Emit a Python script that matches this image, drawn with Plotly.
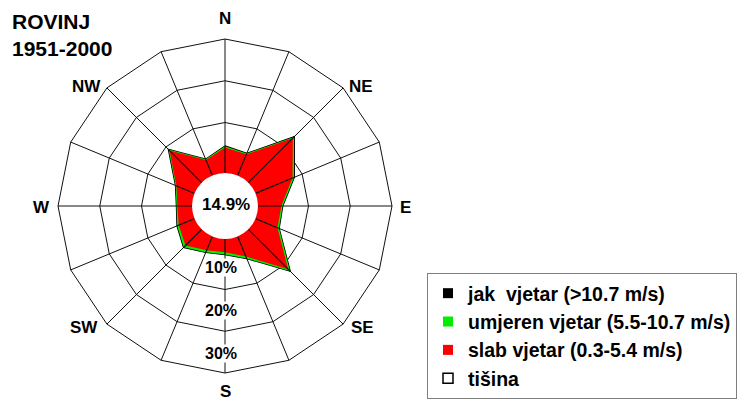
import numpy as np
import plotly.graph_objects as go

directions = ["N", "NNE", "NE", "ENE", "E", "ESE", "SE", "SSE",
              "S", "SSW", "SW", "WSW", "W", "WNW", "NW", "NNW"]
compass_labels = ["N", "NE", "E", "SE", "S", "SW", "W", "NW"]

# frequencies (%) by wind class
slab = [4.0, 3.4, 13.0, 7.5, 3.5, 3.6, 11.4, 3.1,
        1.1, 1.5, 3.4, 2.0, 1.4, 2.6, 8.8, 1.9]          # 0.3-5.4 m/s
umjeren = [0.3, 0.2, 0.4, 0.4, 0.3, 0.4, 0.6, 0.5,
           0.5, 0.5, 0.6, 0.4, 0.2, 0.2, 0.3, 0.2]       # 5.5-10.7 m/s
jak = [0.1, 0.05, 0.1, 0.1, 0.05, 0.05, 0.1, 0.05,
       0.05, 0.05, 0.05, 0.05, 0.05, 0.05, 0.1, 0.05]   # >10.7 m/s
calm = 14.9
ring_vals = [0, 10, 20, 30]
ring_labels = ["10%", "20%", "30%"]

legend_names = ["jak  vjetar (>10.7 m/s)", "umjeren vjetar (5.5-10.7 m/s)",
                "slab vjetar (0.3-5.4 m/s)", "tišina"]

c_red = np.array(slab)
c_green = c_red + np.array(umjeren)
c_black = c_green + np.array(jak)

theta_closed = directions + [directions[0]]

def closed(a):
    a = list(a)
    return a + [a[0]]

fig = go.Figure()
fig.add_trace(go.Scatterpolar(r=closed(c_black), theta=theta_closed, mode="lines",
                              fill="toself", fillcolor="black",
                              line=dict(color="black", width=1.2), showlegend=False))
fig.add_trace(go.Scatterpolar(r=closed(c_green), theta=theta_closed, mode="lines",
                              fill="toself", fillcolor="#00ee00",
                              line=dict(color="#00ee00", width=0), showlegend=False))
fig.add_trace(go.Scatterpolar(r=closed(c_red), theta=theta_closed, mode="lines",
                              fill="toself", fillcolor="#ff0000",
                              line=dict(color="#ff0000", width=0), showlegend=False))

# spokes from centre to each vertex, drawn over the fill
sr, st = [], []
for d, v in zip(directions, c_black):
    sr += [-10, v, None]
    st += [d, d, None]
fig.add_trace(go.Scatterpolar(r=sr, theta=st, mode="lines",
                              line=dict(color="#111111", width=1.2),
                              showlegend=False, hoverinfo="skip"))

# legend entries
leg_colors = ["black", "#00ee00", "#ff0000", "white"]
leg_symbols = ["square", "square", "square", "square-open"]
for name, col, sym in zip(legend_names, leg_colors, leg_symbols):
    fig.add_trace(go.Scatterpolar(
        r=[None], theta=[None], mode="markers", name=name,
        marker=dict(symbol=sym, size=10,
                    color=(col if sym == "square" else "black"),
                    line=dict(width=0 if sym == "square" else 1.5, color="black"))))

W, H = 746, 400
OFF = 8  # page body margin of the browser
cx, cy, R = 225 - OFF, 206 - OFF, 167

def px(x):
    return (x - OFF) / W

def py(y):
    return 1 - (y - OFF) / H

fig.update_layout(
    width=W, height=H,
    margin=dict(l=0, r=0, t=0, b=0, autoexpand=False),
    paper_bgcolor="white",
    font=dict(family="Arial, Liberation Sans, sans-serif", color="black"),
    polar=dict(
        domain=dict(x=[(cx - R) / W, (cx + R) / W],
                    y=[1 - (cy + R) / H, 1 - (cy - R) / H]),
        bgcolor="white",
        gridshape="linear",
        radialaxis=dict(range=[-10, 30], tickvals=ring_vals, showticklabels=False,
                        ticks="", showline=False, gridcolor="#111111", gridwidth=1.3),
        angularaxis=dict(type="category", categoryarray=directions,
                         direction="clockwise", rotation=90,
                         showticklabels=False,
                         ticks="", showline=True, linecolor="#111111", linewidth=1,
                         gridcolor="#111111", gridwidth=1.3),
    ),
    legend=dict(x=px(427), y=py(273), xanchor="left", yanchor="top",
                bgcolor="white", bordercolor="#7f7f7f", borderwidth=1,
                font=dict(size=19.5, weight="bold", color="black"),
                traceorder="normal"),
    showlegend=True,
)

# title
fig.add_annotation(x=px(10), y=py(8), xref="paper", yref="paper",
                   xanchor="left", yanchor="top", align="left",
                   text="<b>ROVINJ<br>1951-2000</b>", showarrow=False,
                   font=dict(size=21, color="black"))

# compass labels around the rose
label_pos = [(225, 18), (361, 86), (405, 207), (362, 327),
             (225, 391), (84, 327), (41, 207), (86, 86)]
for lab, (lx, ly) in zip(compass_labels, label_pos):
    fig.add_annotation(x=px(lx), y=py(ly), xref="paper", yref="paper",
                       xanchor="center", yanchor="middle",
                       text=f"<b>{lab}</b>", showarrow=False,
                       font=dict(size=17, color="black"))

# calm circle in the centre
rc = 33
fig.add_shape(type="circle", xref="paper", yref="paper",
              x0=(cx - rc) / W, x1=(cx + rc) / W,
              y0=1 - (cy + rc) / H, y1=1 - (cy - rc) / H,
              fillcolor="white", line=dict(width=0), layer="above")
fig.add_annotation(x=px(226), y=py(205), xref="paper", yref="paper",
                   xanchor="center", yanchor="middle",
                   text=f"<b>{calm}%</b>", showarrow=False,
                   font=dict(size=17, color="black"))

# ring percentage labels along the S spoke
for lab, yy in zip(ring_labels, [267, 310, 353]):
    fig.add_annotation(x=px(221), y=py(yy), xref="paper", yref="paper",
                       xanchor="center", yanchor="middle",
                       text=f"<b>{lab}</b>", showarrow=False, bgcolor="white",
                       borderpad=0, font=dict(size=16, color="black"))

fig.write_html("out.html")
